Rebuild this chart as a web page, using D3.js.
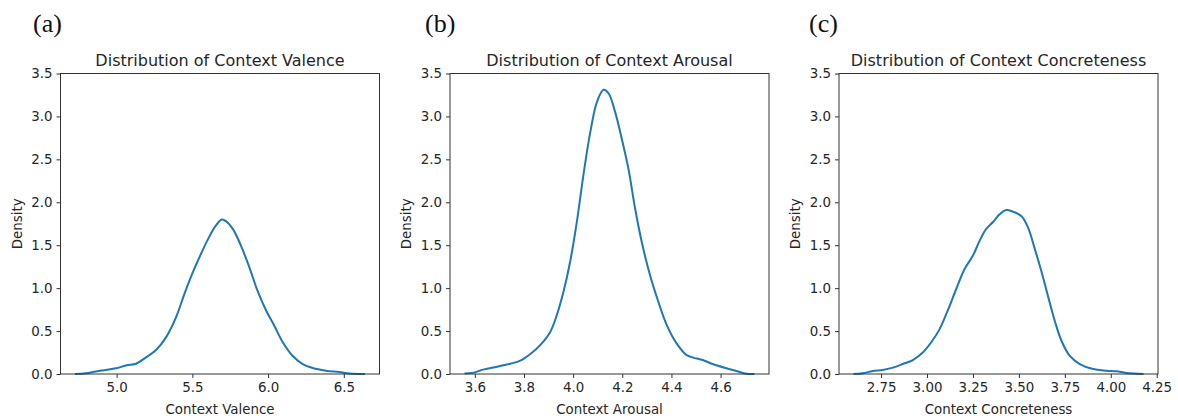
<!DOCTYPE html>
<html>
<head>
<meta charset="utf-8">
<script src="https://cdn.jsdelivr.net/npm/d3@7"></script>
<style>
  body { margin: 0; background: #fff; }
  svg { display: block; }
</style>
</head>
<body>
<svg width="1178" height="419"></svg>
<script>
// KDE curves: [x, density]
const valence = [
	[4.725, 0.0], [4.797, 0.008], [4.863, 0.03], [4.93, 0.047], [4.996, 0.066],
	[5.062, 0.10], [5.128, 0.12], [5.194, 0.194], [5.26, 0.28], [5.326, 0.427],
	[5.392, 0.66], [5.447, 0.93], [5.502, 1.18], [5.557, 1.40], [5.612, 1.60],
	[5.656, 1.73], [5.694, 1.80], [5.722, 1.78], [5.767, 1.69], [5.822, 1.49],
	[5.877, 1.24], [5.93, 0.97], [5.987, 0.74], [6.042, 0.56], [6.097, 0.37],
	[6.163, 0.21], [6.229, 0.116], [6.295, 0.07], [6.383, 0.039], [6.471, 0.023],
	[6.537, 0.006], [6.64, 0.0]
]
const arousal = [
	[3.558, 0.006], [3.596, 0.016], [3.637, 0.054], [3.69, 0.085], [3.745, 0.12],
	[3.785, 0.155], [3.826, 0.233], [3.867, 0.34], [3.907, 0.49], [3.934, 0.69],
	[3.961, 0.96], [3.988, 1.31], [4.015, 1.77], [4.042, 2.32], [4.07, 2.82],
	[4.097, 3.17], [4.124, 3.31], [4.144, 3.27], [4.171, 3.05], [4.198, 2.74],
	[4.225, 2.39], [4.252, 1.93], [4.279, 1.54], [4.313, 1.15], [4.347, 0.84],
	[4.381, 0.57], [4.421, 0.357], [4.462, 0.22], [4.503, 0.18], [4.53, 0.16],
	[4.57, 0.113], [4.624, 0.066], [4.665, 0.035], [4.699, 0.006], [4.738, 0.0]
]
const concreteness = [
	[2.60, 0.0], [2.65, 0.008], [2.705, 0.035], [2.759, 0.047], [2.814, 0.074],
	[2.868, 0.116], [2.923, 0.163], [2.977, 0.25], [3.023, 0.37], [3.068, 0.52],
	[3.113, 0.74], [3.159, 0.99], [3.204, 1.22], [3.25, 1.38], [3.286, 1.55],
	[3.322, 1.69], [3.359, 1.77], [3.395, 1.86], [3.431, 1.91], [3.468, 1.89],
	[3.513, 1.84], [3.549, 1.71], [3.586, 1.46], [3.622, 1.20], [3.658, 0.91],
	[3.695, 0.62], [3.731, 0.39], [3.777, 0.21], [3.831, 0.116], [3.904, 0.058],
	[3.976, 0.039], [4.031, 0.031], [4.085, 0.012], [4.178, 0.0]
]

const panelLetters = ["(a)", "(b)", "(c)"]
const titles = ["Distribution of Context Valence", "Distribution of Context Arousal", "Distribution of Context Concreteness"]
const xLabels = ["Context Valence", "Context Arousal", "Context Concreteness"]
const xTicks = [
	[5.0, 5.5, 6.0, 6.5],
	[3.6, 3.8, 4.0, 4.2, 4.4, 4.6],
	[2.75, 3.00, 3.25, 3.50, 3.75, 4.00, 4.25]
]
const xTickFormat = [".1f", ".1f", ".2f"]
const yTicks = [0.0, 0.5, 1.0, 1.5, 2.0, 2.5, 3.0, 3.5]
const series = [valence, arousal, concreteness]

const svg = d3.select("svg")
const lefts = [60.5, 450, 839]
const letterX = [33, 425, 809]
const plotTop = 73.5, plotBottom = 374, width = 319
const height = plotBottom - plotTop

const y = d3.scaleLinear().domain([0, 3.5]).range([height, 0])

series.forEach((data, i) => {
	// matplotlib style 5% padding around data
	const ext = d3.extent(data, d => d[0])
	const pad = (ext[1] - ext[0]) * 0.05
	const x = d3.scaleLinear().domain([ext[0] - pad, ext[1] + pad]).range([0, width])

	svg.append("text")
		.attr("x", letterX[i]).attr("y", 32)
		.style("font-family", "'Liberation Serif', 'Times New Roman', serif")
		.style("font-size", "26px")
		.style("fill", "#111")
		.text(panelLetters[i])

	const g = svg.append("g")
		.attr("transform", "translate(" + lefts[i] + "," + plotTop + ")")

	g.append("path")
		.datum(data)
		.attr("fill", "none")
		.attr("stroke", "#1f77b4")
		.attr("stroke-width", 2)
		.attr("stroke-linejoin", "round")
		.attr("d", d3.line()
			.x(d => x(d[0]))
			.y(d => y(d[1]))
			.curve(d3.curveCatmullRom.alpha(0.5)))

	const xAxis = g.append("g")
		.attr("transform", "translate(0," + height + ")")
		.call(d3.axisBottom(x).tickValues(xTicks[i]).tickFormat(d3.format(xTickFormat[i])).tickSize(4).tickPadding(4))
	const yAxis = g.append("g")
		.call(d3.axisLeft(y).tickValues(yTicks).tickFormat(d3.format(".1f")).tickSize(4).tickPadding(4))

	;[xAxis, yAxis].forEach(ax => {
		ax.select(".domain").remove()
		ax.selectAll("line").attr("stroke", "#333").attr("stroke-width", 1)
		ax.selectAll("text")
			.style("font-family", "'DejaVu Sans', sans-serif")
			.style("font-size", "13.4px")
			.style("fill", "#262626")
	})

	g.append("rect")
		.attr("width", width).attr("height", height)
		.attr("fill", "none")
		.attr("stroke", "#333")
		.attr("stroke-width", 1)

	g.append("text")
		.attr("x", width / 2).attr("y", -7.5)
		.attr("text-anchor", "middle")
		.style("font-family", "'DejaVu Sans', sans-serif")
		.style("font-size", "16px")
		.style("fill", "#262626")
		.text(titles[i])

	g.append("text")
		.attr("x", width / 2).attr("y", height + 39.5)
		.attr("text-anchor", "middle")
		.style("font-family", "'DejaVu Sans', sans-serif")
		.style("font-size", "13.4px")
		.style("fill", "#262626")
		.text(xLabels[i])

	g.append("text")
		.attr("transform", "translate(-39," + (height / 2) + ") rotate(-90)")
		.attr("text-anchor", "middle")
		.style("font-family", "'DejaVu Sans', sans-serif")
		.style("font-size", "13.4px")
		.style("fill", "#262626")
		.text("Density")
})
</script>
</body>
</html>
